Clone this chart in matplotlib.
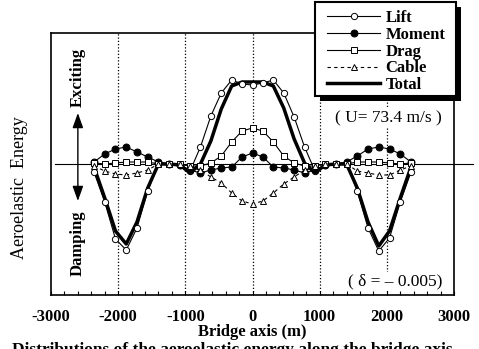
import matplotlib
matplotlib.use("Agg")
import matplotlib.pyplot as plt
from matplotlib.patches import Rectangle
from matplotlib.ticker import MultipleLocator

plt.rcParams["font.family"] = ["Liberation Serif", "DejaVu Serif"]

# positions along the bridge (m)
x = [-2360, -2200, -2040, -1880, -1720, -1560, -1400, -1240, -1080,
     -930, -775, -620, -465, -310, -155, 0, 155, 310, 465, 620, 775, 930,
     1080, 1240, 1400, 1560, 1720, 1880, 2040, 2200, 2360]

# aeroelastic energy, arbitrary units
lift = [-8, -38, -75, -86, -64, -27, 1, 0, -1,
        -7, 17, 48, 71, 84, 80, 79, 81, 84, 71, 47, 17, -7,
        -1, 0, 1, -27, -64, -87, -74, -38, -8]
moment = [2, 10, 15, 17, 12, 7, 2, 0, -1,
          -6, -9, -6, -4, -3, 7, 11, 7, -3, -4, -6, -9, -6,
          -1, 0, 2, 8, 15, 17, 15, 10, 2]
drag = [1, 0, 1, 2, 2, 2, 0, 0, 0,
        -2, -2, 1, 8, 22, 33, 36, 33, 22, 8, 1, -2, -2,
        0, 0, 0, 2, 2, 2, 1, 0, 1]
cable = [-2, -7, -10, -11, -9, -6, 0, 0, 0,
         -2, -6, -13, -19, -29, -37, -40, -37, -29, -20, -13, -6, -2,
         0, 0, 0, -7, -9, -11, -11, -6, -2]
total = [-3, -34, -67, -80, -58, -24, 0, 0, -1,
         -9, 0, 23, 55, 78, 82, 82, 82, 78, 56, 25, 1, -9,
         -1, 0, 0, -24, -58, -82, -67, -34, -3]

xticks = [-3000, -2000, -1000, 0, 1000, 2000, 3000]
grid_x = [-2000, -1000, 0, 1000, 2000]

W, H = 479, 349
fig = plt.figure(figsize=(W / 100, H / 100), dpi=100)
ax = fig.add_axes([51 / W, 1 - 295 / H, 403 / W, 262 / H])

for gx in grid_x:
    ax.axvline(gx, color="k", lw=0.9, ls=(0, (1, 1.6)), zorder=1)

# zero line runs a little past the right frame
ax.plot([0.01, 1.047], [0, 0], transform=ax.get_yaxis_transform(),
        color="k", lw=0.8, clip_on=False, zorder=2)

ax.plot(x, lift, color="k", lw=0.8, marker="o", ms=4.5, mfc="white",
        mew=0.7, zorder=4, label="Lift")
ax.plot(x, moment, color="k", lw=0.8, marker="o", ms=5, mfc="black",
        mew=0.7, zorder=4, label="Moment")
ax.plot(x, drag, color="k", lw=0.8, marker="s", ms=4.2, mfc="white",
        mew=0.7, zorder=4, label="Drag")
ax.plot(x, cable, color="k", lw=0.8, ls=(0, (3, 3)), marker="^", ms=4.5,
        mfc="white", mew=0.7, zorder=4, label="Cable")
ax.plot(x, total, color="k", lw=2.5, zorder=3, label="Total")

ax.set_xlim(-3000, 3000)
ax.set_ylim(-131, 131)
ax.set_yticks([])
ax.set_xticks(xticks)
ax.set_xticklabels([str(v) for v in xticks], fontsize=12, fontweight="bold")
ax.xaxis.set_minor_locator(MultipleLocator(200))
ax.tick_params(axis="x", which="both", direction="in", length=3, width=0.8,
               pad=10, top=False)
for s in ax.spines.values():
    s.set_linewidth(1.2)

ax.set_xlabel("Bridge axis (m)", fontsize=12, fontweight="bold", labelpad=-1)

# exciting / damping arrow
ax.annotate("", xy=(-2600, 51), xytext=(-2600, -37),
            arrowprops=dict(arrowstyle="<|-|>,head_length=0.5,head_width=0.18",
                            color="k", lw=1, mutation_scale=18,
                            shrinkA=0, shrinkB=0), zorder=5)
ax.text(-2600, 87, "Exciting", rotation=90, ha="center", va="center",
        fontsize=12, fontweight="bold")
ax.text(-2600, -79, "Damping", rotation=90, ha="center", va="center",
        fontsize=12, fontweight="bold")

ax.text(2020, 46, "( U= 73.4 m/s )", ha="center", va="center", fontsize=12.5,
        bbox=dict(facecolor="white", edgecolor="none", pad=1), zorder=6)
ax.text(2120, -117, "( \u03b4 = \u2013 0.005)", ha="center", va="center",
        fontsize=12.5, bbox=dict(facecolor="white", edgecolor="none", pad=1),
        zorder=6)

fig.text(20 / W, 1 - 188 / H, "Aeroelastic  Energy", rotation=90,
         ha="center", va="center", fontsize=13)

# caption, cut off at the bottom edge as in the source scan
fig.text(12 / W, 1 - 354 / H,
         "Distributions of the aeroelastic energy along the bridge axis",
         ha="left", va="baseline", fontsize=12.5, fontweight="bold")

# legend box with heavy shadow
fig.add_artist(Rectangle((320 / W, 1 - 101 / H), 141 / W, 94 / H,
                         transform=fig.transFigure, facecolor="black",
                         edgecolor="none", zorder=8))
fig.add_artist(Rectangle((315 / W, 1 - 96 / H), 141 / W, 94 / H,
                         transform=fig.transFigure, facecolor="white",
                         edgecolor="black", lw=1.5, zorder=9))
leg = ax.legend(loc="upper left", bbox_to_anchor=(327 / W, 1 - 10 / H),
                bbox_transform=fig.transFigure, frameon=False,
                prop={"size": 12, "weight": "bold"}, handlelength=3.2,
                handletextpad=0.3, labelspacing=0.05, borderpad=0,
                borderaxespad=0)
leg.set_zorder(10)
leg.remove()
fig.add_artist(leg)

fig.savefig("out.png", dpi=100)
